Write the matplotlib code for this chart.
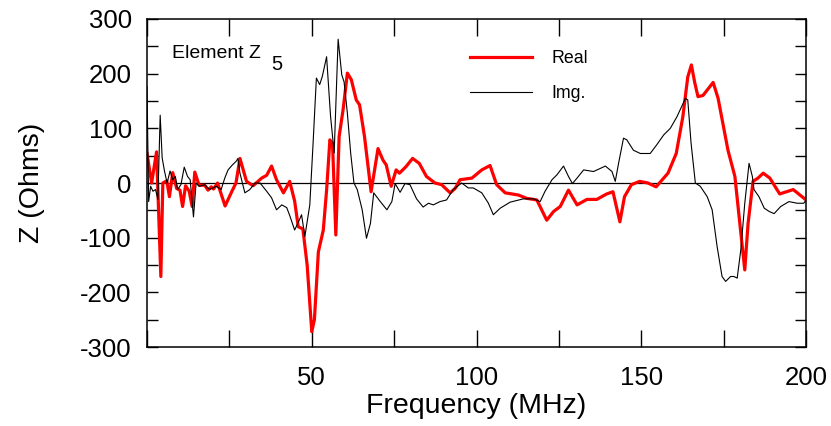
import numpy as np
import matplotlib
matplotlib.use('Agg')
import matplotlib.pyplot as plt

plt.rcParams['font.family'] = ['Liberation Sans', 'DejaVu Sans']

# Real part of Z5 (MHz, Ohms)
freq_real = [0.0, 1.4, 2.9, 4.2, 4.8, 6.0, 6.8, 7.8, 9.0, 10.0, 10.8, 11.7, 12.8, 13.7, 14.5,
             15.8, 17.5, 18.5, 19.5, 20.2, 21.4, 23.7, 25.7, 27.0, 28.2, 30.2, 32.2, 34.8, 36.3,
             37.8, 39.3, 41.4, 43.3, 44.8, 45.9, 47.3, 48.6, 50.0, 50.8, 52.0, 53.5, 54.5, 55.5,
             56.3, 57.3, 58.3, 59.5, 60.8, 62.0, 63.5, 64.5, 66.0, 68.0, 70.1, 71.6, 72.6, 74.1,
             75.6, 76.6, 78.6, 80.6, 82.6, 84.8, 87.4, 89.4, 92.0, 93.5, 95.0, 98.6, 101.6, 104.1,
             106.1, 108.7, 112.7, 115.2, 118.3, 121.3, 123.4, 125.4, 127.9, 130.5, 133.5, 136.5,
             139.5, 141.4, 143.5, 144.9, 147.0, 149.5, 152.0, 154.5, 158.1, 160.6, 162.6, 164.1,
             165.2, 166.2, 167.2, 168.7, 171.8, 173.3, 176.3, 178.4, 179.9, 181.4, 182.4, 183.9,
             185.4, 187.0, 189.0, 192.0, 196.1, 200.0]
z_real = [54, 0, 57, -171, 0, 4, -25, 19, -10, -13, -43, -5, -15, -43, 20,
          -4, -4, -13, -7, -11, 0, -42, -16, 0, 45, 3, -5, 9, 14,
          31, 6, -18, 3, -33, -80, -84, -150, -272, -250, -126, -86, -13, 79,
          72, -95, 85, 134, 201, 189, 152, 143, 85, -16, 63, 42, 33, -6,
          24, 18, 30, 45, 36, 12, 0, -3, -18, -10, 6, 9, 24, 32,
          -3, -18, -22, -28, -31, -68, -52, -43, -13, -40, -30, -30,
          -20, -16, -71, -25, -3, 3, 0, -7, 18, 54, 121, 194,
          216, 184, 158, 160, 184, 155, 60, 12, -74, -159, -74, 3,
          9, 18, 9, -20, -12, -31]

# Imaginary part of Z5
freq_img = [0.0, 0.5, 1.1, 1.8, 2.6, 3.3, 4.0, 4.6, 5.3, 6.1, 7.0, 7.8, 8.6, 9.3, 10.3,
            11.3, 12.3, 13.1, 14.1, 14.9, 15.9, 17.5, 19.0, 21.0, 22.5, 23.6, 24.6, 25.9, 27.1,
            27.6, 28.2, 29.7, 31.2, 32.8, 34.3, 36.3, 37.8, 39.3, 40.9, 42.4, 43.4, 44.8, 46.2,
            46.9, 47.9, 49.4, 50.4, 51.4, 52.4, 53.2, 54.5, 55.7, 56.8, 58.0, 59.1, 59.8, 60.8,
            61.8, 62.8, 63.8, 65.3, 66.6, 67.8, 68.8, 70.8, 72.8, 74.3, 75.3, 76.8, 78.3, 79.8,
            81.8, 83.8, 85.4, 86.9, 88.9, 90.9, 92.9, 95.5, 97.5, 99.0, 101.6, 103.6, 105.1, 107.2,
            110.2, 114.2, 117.3, 119.3, 120.8, 122.9, 124.4, 126.4, 127.9, 129.1, 130.5, 132.5,
            135.5, 139.1, 141.1, 142.1, 143.1, 144.6, 145.6, 147.6, 149.7, 152.7, 154.7, 156.8,
            158.8, 160.8, 163.4, 164.1, 165.1, 166.4, 167.9, 170.0, 171.5, 173.0, 174.5, 175.6,
            177.1, 178.1, 179.1, 180.2, 181.4, 182.7, 183.7, 184.2, 185.7, 187.3, 188.8, 190.3,
            192.3, 194.8, 197.3, 199.3, 200.0]
z_img = [176, -34, -6, -15, -12, -30, 124, 46, 22, 0, 22, 6, 12, -12, -3,
         29, 12, 6, -62, 0, -6, -3, -12, -6, -12, 9, 24, 33, 40,
         45, 18, -18, -12, 0, 0, -15, -27, -49, -40, -45, -61, -86, -68,
         -58, -98, -40, 73, 192, 180, 195, 231, 122, 55, 263, 198, 185, 128,
         55, 0, -12, -49, -101, -74, -18, -34, -49, -34, -1, -17, -1, -3,
         -29, -44, -37, -40, -34, -31, -12, 0, -9, -9, -18, -37, -58, -46,
         -35, -29, -29, -34, -15, 6, 15, 31, 12, -1, 9, 24,
         21, 31, 21, 3, 36, 82, 79, 60, 54, 54, 70, 88,
         100, 121, 155, 152, 73, 0, -6, -25, -49, -116, -171, -180,
         -171, -171, -174, -122, -37, 36, 12, -12, -25, -46, -52, -56,
         -43, -34, -37, -37, -31]

fig = plt.figure(figsize=(8.31, 4.26), dpi=100)
ax = fig.add_axes([0.1769, 0.1854, 0.7931, 0.7700])

ax.axhline(0, color='black', linewidth=0.9)
ax.plot(freq_real, z_real, color='#ff0000', linewidth=2.3, label='Real')
ax.plot(freq_img, z_img, color='black', linewidth=0.8, label='Img.')

ax.set_xlim(0, 200)
ax.set_ylim(-300, 300)

xt = np.arange(0, 201, 25)
ax.set_xticks(xt)
ax.set_xticklabels([str(v) if (v % 50 == 0 and v > 0) else '' for v in xt])
yt = np.arange(-300, 301, 50)
ax.set_yticks(yt)
ax.set_yticklabels([str(v) if v % 100 == 0 else '' for v in yt])

ax.tick_params(axis='x', direction='in', top=True, length=12, width=1.0, pad=13.5, labelsize=18.5)
ax.tick_params(axis='y', direction='in', right=True, length=8, width=1.0, pad=11, labelsize=18.5)
for s in ax.spines.values():
    s.set_linewidth(1.1)

ax.set_xlabel('Frequency (MHz)', fontsize=20.5, labelpad=2)
ax.set_ylabel('Z (Ohms)', fontsize=20.5, labelpad=25)

# label of the element
ax.text(0.038, 0.881, 'Element Z', transform=ax.transAxes, fontsize=14, va='baseline')
ax.text(0.189, 0.8445, '5', transform=ax.transAxes, fontsize=14.5, va='baseline')

ax.legend(loc='center left', bbox_to_anchor=(0.490, 0.826), frameon=False, fontsize=12.8,
          handlelength=3.5, handletextpad=1.1, labelspacing=1.05, borderpad=0, borderaxespad=0)

plt.savefig('out.png', dpi=100)
plt.close()
